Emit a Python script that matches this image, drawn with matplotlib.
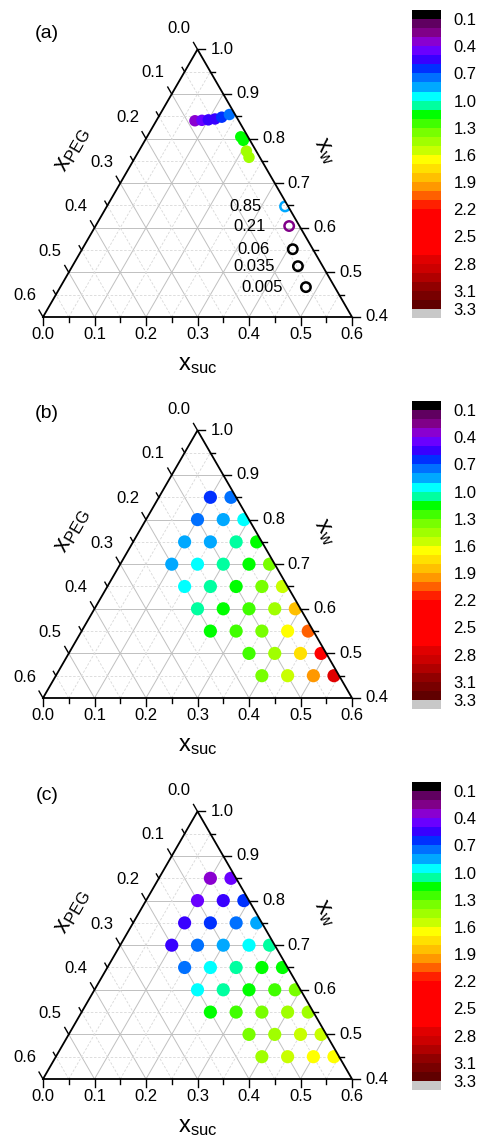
import numpy as np
import matplotlib
matplotlib.use('Agg')
import matplotlib.pyplot as plt
from matplotlib.colors import ListedColormap, BoundaryNorm
from matplotlib.patches import Polygon
import matplotlib.cm as cm

plt.rcParams['font.family'] = ['Liberation Sans', 'DejaVu Sans']
plt.rcParams['mathtext.fontset'] = 'custom'
plt.rcParams['mathtext.rm'] = 'Liberation Sans'

# ---------------- data ----------------
# panel (a): filled points (x_suc, x_PEG) and their colour values
a_suc = [0.075, 0.088, 0.100, 0.112, 0.123, 0.135, 0.182, 0.191, 0.209, 0.221]
a_peg = [0.085, 0.071, 0.058, 0.044, 0.029, 0.011, 0.014, 0.013, 0.019, 0.021]
a_val = [0.38, 0.45, 0.55, 0.58, 0.65, 0.75, 1.15, 1.15, 1.42, 1.42]

# panel (a): open rings with labels
ring_suc = [0.346, 0.376, 0.409, 0.438, 0.477]
ring_peg = [0.006, 0.020, 0.039, 0.048, 0.056]
ring_val = [0.85, 0.21, 0.06, 0.035, 0.005]
ring_labels = ['0.85', '0.21', '0.06', '0.035', '0.005']

# panels (b) and (c): composition grid
grid_w = [0.85, 0.85,
          0.80, 0.80, 0.80,
          0.75, 0.75, 0.75, 0.75,
          0.70, 0.70, 0.70, 0.70, 0.70,
          0.65, 0.65, 0.65, 0.65, 0.65,
          0.60, 0.60, 0.60, 0.60, 0.60,
          0.55, 0.55, 0.55, 0.55, 0.55,
          0.50, 0.50, 0.50, 0.50,
          0.45, 0.45, 0.45, 0.45]
grid_peg = [0.05, 0.01,
            0.10, 0.05, 0.01,
            0.15, 0.10, 0.05, 0.01,
            0.20, 0.15, 0.10, 0.05, 0.01,
            0.20, 0.15, 0.10, 0.05, 0.01,
            0.20, 0.15, 0.10, 0.05, 0.01,
            0.20, 0.15, 0.10, 0.05, 0.01,
            0.15, 0.10, 0.05, 0.01,
            0.15, 0.10, 0.05, 0.01]
b_val = [0.65, 0.75,
         0.75, 0.85, 0.95,
         0.85, 0.85, 1.05, 1.15,
         0.85, 0.95, 1.05, 1.15, 1.35,
         0.95, 1.05, 1.15, 1.35, 1.55,
         1.05, 1.15, 1.25, 1.45, 1.85,
         1.15, 1.25, 1.35, 1.65, 2.05,
         1.25, 1.45, 1.75, 2.30,
         1.35, 1.55, 1.95, 2.75]
c_val = [0.35, 0.45,
         0.45, 0.55, 0.65,
         0.55, 0.65, 0.75, 0.85,
         0.55, 0.75, 0.85, 0.95, 1.05,
         0.75, 0.95, 1.05, 1.15, 1.15,
         0.95, 1.05, 1.15, 1.25, 1.35,
         1.15, 1.25, 1.35, 1.45, 1.45,
         1.35, 1.45, 1.55, 1.55,
         1.45, 1.55, 1.65, 1.65]

# axis tick values
suc_ticks = [0.0, 0.1, 0.2, 0.3, 0.4, 0.5, 0.6]
peg_ticks = [0.0, 0.1, 0.2, 0.3, 0.4, 0.5, 0.6]
w_ticks = [0.4, 0.5, 0.6, 0.7, 0.8, 0.9, 1.0]
minor_vals = [0.05, 0.15, 0.25, 0.35, 0.45, 0.55]

# colour scale
cb_ticks = [0.1, 0.4, 0.7, 1.0, 1.3, 1.6, 1.9, 2.2, 2.5, 2.8, 3.1, 3.3]
cb_bounds = [round(0.1 * i, 2) for i in range(35)]
cb_colors = ['#000000', '#600060', '#800088', '#8a00d0', '#6a00ff', '#3800ff',
             '#0030ff', '#0070ff', '#00a8ff', '#00ffff', '#00ffa0', '#00ff00',
             '#40ff00', '#78ff00', '#a0ff00', '#c8ff00', '#ffff00', '#ffe000',
             '#ffc000', '#ff9800', '#ff6000', '#ff2000', '#ff0000', '#ff0000',
             '#ff0000', '#ff0000', '#ff0000', '#e00000', '#cc0000', '#b00000',
             '#900000', '#780000', '#600000', '#c8c8c8']
cmap = ListedColormap(cb_colors)
norm = BoundaryNorm(cb_bounds, cmap.N)

# ---------------- geometry ----------------
FW, FH = 483.0, 1147.0
S = 515.0          # pixels per composition unit
R3 = np.sqrt(3) / 2


def tern(suc, peg):
    suc = np.asarray(suc, float)
    peg = np.asarray(peg, float)
    h = 0.6 - suc - peg
    return suc + 0.5 * h, h * R3


fig = plt.figure(figsize=(FW / 100, FH / 100), dpi=100)


def panel(top, bot, vx, vy, letter):
    ax = fig.add_axes([0, 1 - bot / FH, 400 / FW, (bot - top) / FH])
    ax.set_xlim((0 - vx) / S, (400 - vx) / S)
    ax.set_ylim((vy - bot) / S, (vy - top) / S)
    ax.axis('off')
    # grid
    for v in [0.1, 0.2, 0.3, 0.4, 0.5] + minor_vals:
        major = v in [0.1, 0.2, 0.3, 0.4, 0.5]
        kw = dict(color='#c0c0c0', lw=0.7, zorder=1) if major else \
            dict(color='#d8d8d8', lw=0.6, ls=(0, (3, 2)), zorder=1)
        wv = 0.4 + v
        x, y = tern([0, 1 - wv], [1 - wv, 0])
        ax.plot(x, y, **kw)
        x, y = tern([v, v], [0.6 - v, 0])
        ax.plot(x, y, **kw)
        x, y = tern([0.6 - v, 0], [v, v])
        ax.plot(x, y, **kw)
    # triangle
    tx, ty = tern([0, 0.6, 0, 0], [0.6, 0, 0, 0.6])
    ax.plot(tx, ty, color='black', lw=1.3, zorder=5, solid_joinstyle='miter')
    clip = Polygon(np.column_stack([tx[:3], ty[:3]]), closed=True,
                   transform=ax.transData, fc='none', ec='none')
    ax.add_patch(clip)
    # ticks
    allv = sorted(suc_ticks + minor_vals)
    for v in allv:
        L = 8 if v in suc_ticks else 5
        x, y = tern(v, 0.6 - v)
        ax.plot([x, x], [y, y - L / S], color='black', lw=1.0, zorder=5)
        x, y = tern(0, v)
        ax.plot([x, x - 0.5 * L / S], [y, y + 0.866 * L / S], color='black', lw=1.0, zorder=5)
        wv = 0.4 + v
        x, y = tern(1 - wv, 0)
        ax.plot([x, x + L / S], [y, y], color='black', lw=1.0, zorder=5)
    for v in suc_ticks:
        x, y = tern(v, 0.6 - v)
        ax.text(x, y - 17.5 / S, f'{v:.1f}', ha='center', va='center', fontsize=12)
    for v in peg_ticks:
        x, y = tern(0, v)
        ax.text(x - 18.5 / S, y + 21 / S, f'{v:.1f}', ha='center', va='center', fontsize=12)
    for v in w_ticks:
        x, y = tern(1 - v, 0)
        ax.text(x + 13 / S, y, f'{v:.1f}', ha='left', va='center', fontsize=12)
    # axis titles
    ax.text(0.3, -48 / S, r'$\mathregular{x_{suc}}$', ha='center', va='center', fontsize=17)
    xt, yt = tern(0, 0.3)
    ax.text(xt - 48 / S, yt + 33 / S, r'$\mathregular{x_{PEG}}$', ha='center', va='center',
            fontsize=17, rotation=60, rotation_mode='anchor')
    xt, yt = tern(0.3, 0)
    ax.text(xt + 50 / S, yt + 32 / S, r'$\mathregular{x_{w}}$', ha='center', va='center',
            fontsize=17, rotation=-60, rotation_mode='anchor')
    ax.text((47 - vx) / S, (268 + 16) / S, letter, ha='center', va='center', fontsize=14)
    return ax, clip


def colorbar(top, bot):
    cax = fig.add_axes([412 / FW, 1 - bot / FH, 29 / FW, (bot - top) / FH])
    cb = fig.colorbar(cm.ScalarMappable(norm=norm, cmap=cmap), cax=cax,
                      ticks=cb_ticks, spacing='proportional')
    cb.minorticks_off()
    cax.invert_yaxis()
    cb.outline.set_visible(False)
    cax.tick_params(which='both', length=0, labelsize=12, pad=9)
    cb.set_ticklabels([f'{t:.1f}' for t in cb_ticks])


# panel (a)
ax, clip = panel(0, 370, 43, 317, '(a)')
x, y = tern(a_suc, a_peg)
sc = ax.scatter(x, y, c=a_val, cmap=cmap, norm=norm, s=68, lw=0, zorder=3)
sc.set_clip_path(clip)
x, y = tern(ring_suc, ring_peg)
sc = ax.scatter(x, y, facecolors='none', edgecolors=cmap(norm(ring_val)), s=46,
                linewidths=1.8, zorder=3)
sc.set_clip_path(clip)
for xi, yi, lab in zip(x, y, ring_labels):
    ax.annotate(lab, (xi, yi), xytext=(-23 * 0.72, 0), textcoords='offset points',
                ha='right', va='center', fontsize=12)
colorbar(10, 318)

# panel (b)
gsuc = [1 - w - p for w, p in zip(grid_w, grid_peg)]
ax, clip = panel(370, 750, 43, 698, '(b)')
x, y = tern(gsuc, grid_peg)
sc = ax.scatter(x, y, c=b_val, cmap=cmap, norm=norm, s=90, lw=0, zorder=3)
sc.set_clip_path(clip)
colorbar(401, 709)

# panel (c)
ax, clip = panel(750, 1147, 43, 1079, '(c)')
x, y = tern(gsuc, grid_peg)
sc = ax.scatter(x, y, c=c_val, cmap=cmap, norm=norm, s=90, lw=0, zorder=3)
sc.set_clip_path(clip)
colorbar(782, 1090)

fig.savefig('out.png', dpi=100)
